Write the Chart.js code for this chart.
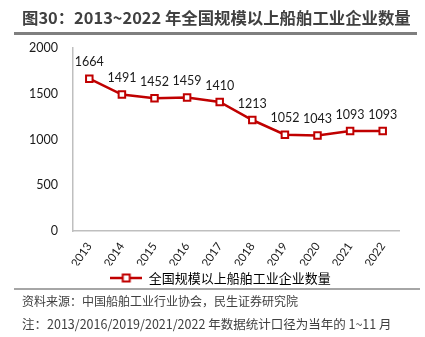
<!DOCTYPE html>
<html>
<head>
<meta charset="utf-8">
<script src="https://cdn.jsdelivr.net/npm/chart.js@4/dist/chart.umd.min.js"></script>
<style>
  html, body { margin: 0; padding: 0; background: #fff; }
  #wrap { position: relative; width: 425px; height: 337px; overflow: hidden; }
  #chart { position: absolute; left: 0; top: 0; }
  .txt { position: absolute; white-space: nowrap; font-family: "Noto Sans CJK SC", sans-serif; color: #404040; }
  #title { left: 22px; top: 6px; font-size: 16.4px; font-weight: bold; line-height: 22px; }
  #rule-top { position: absolute; left: 14px; top: 32px; width: 403px; height: 3px; background: #7f7f7f; }
  #rule-bottom { position: absolute; left: 14px; top: 288px; width: 406px; height: 2px; background: #a6a6a6; }
  #source { left: 22px; top: 292px; font-size: 12px; line-height: 18px; }
  #note { left: 22px; top: 315px; font-size: 12.5px; line-height: 18px; }
</style>
</head>
<body>
<div id="wrap">
  <canvas id="chart" width="425" height="337"></canvas>
  <div class="txt" id="title">图30：2013~2022 年全国规模以上船舶工业企业数量</div>
  <div id="rule-top"></div>
  <div id="rule-bottom"></div>
  <div class="txt" id="source">资料来源：中国船舶工业行业协会，民生证券研究院</div>
  <div class="txt" id="note">注：2013/2016/2019/2021/2022 年数据统计口径为当年的 1~11 月</div>
</div>
<script>
  // Data
  const years = ["2013", "2014", "2015", "2016", "2017", "2018", "2019", "2020", "2021", "2022"];
  const companies = [1664, 1491, 1452, 1459, 1410, 1213, 1052, 1043, 1093, 1093];
  const seriesName = "全国规模以上船舶工业企业数量";
  const yTicks = [0, 500, 1000, 1500, 2000];

  const red = "#C00000";

  // Legend marker: line with a hollow square in the middle
  function legendMarker() {
    const c = document.createElement("canvas");
    c.width = 32;
    c.height = 10;
    const ctx = c.getContext("2d");
    ctx.strokeStyle = red;
    ctx.lineWidth = 2.5;
    ctx.beginPath();
    ctx.moveTo(0, 5);
    ctx.lineTo(32, 5);
    ctx.stroke();
    ctx.fillStyle = "#fff";
    ctx.lineWidth = 2;
    ctx.fillRect(12.5, 1.5, 7, 7);
    ctx.strokeRect(12.5, 1.5, 7, 7);
    return c;
  }

  // Value labels above each point
  const valueLabels = {
    id: "valueLabels",
    afterDatasetsDraw(chart) {
      const ctx = chart.ctx;
      const meta = chart.getDatasetMeta(0);
      ctx.save();
      ctx.font = "12.5px Lato, 'Open Sans', sans-serif";
      ctx.fillStyle = "#1a1a1a";
      ctx.textAlign = "center";
      ctx.textBaseline = "middle";
      meta.data.forEach((pt, i) => {
        ctx.fillText(String(companies[i]), pt.x, pt.y - 16.5);
      });
      ctx.restore();
    }
  };

  // Nudge the legend so it sits centred like the original
  const legendShift = {
    id: "legendShift",
    afterLayout(chart) {
      if (chart.legend) chart.legend.left = 42;
    }
  };

  new Chart(document.getElementById("chart"), {
    type: "line",
    data: {
      labels: years,
      datasets: [
        {
          label: seriesName,
          data: companies,
          borderColor: red,
          borderWidth: 2.5,
          pointStyle: "rect",
          pointRadius: 4.6,
          pointBorderWidth: 2,
          pointBackgroundColor: "#fff",
          pointBorderColor: red,
          tension: 0,
        },
      ],
    },
    options: {
      responsive: false,
      animation: false,
      layout: { padding: { left: 0, right: 26, top: 48, bottom: 42.5 } },
      plugins: {
        tooltip: { enabled: false },
        legend: {
          position: "bottom",
          labels: {
            usePointStyle: true,
            pointStyleWidth: 32,
            padding: 6,
            color: "#1a1a1a",
            font: { family: "'Noto Sans CJK SC', sans-serif", size: 13 },
            generateLabels: () => [
              {
                text: seriesName,
                pointStyle: legendMarker(),
                fillStyle: "#fff",
                strokeStyle: red,
                lineWidth: 0,
                datasetIndex: 0,
              },
            ],
          },
        },
      },
      scales: {
        x: {
          offset: true,
          grid: { display: false, drawTicks: false },
          border: { display: true, color: "#bfbfbf", width: 1.5 },
          ticks: {
            color: "#1a1a1a",
            font: { family: "Lato, 'Open Sans', sans-serif", size: 11.5 },
            minRotation: 55,
            maxRotation: 55,
            padding: 9,
          },
          afterFit: (scale) => { scale.height = 34.5; },
        },
        y: {
          min: 0,
          max: 2000,
          grid: { display: false, drawTicks: false },
          border: { display: true, color: "#bfbfbf", width: 1.5 },
          ticks: {
            stepSize: 500,
            color: "#1a1a1a",
            font: { family: "Lato, 'Open Sans', sans-serif", size: 12.5 },
            padding: 15,
            callback: (v) => String(v),
          },
          afterBuildTicks: (scale) => { scale.ticks = yTicks.map((v) => ({ value: v })); },
          afterFit: (scale) => { scale.width = 73; },
        },
      },
    },
    plugins: [valueLabels, legendShift],
  });
</script>
</body>
</html>
